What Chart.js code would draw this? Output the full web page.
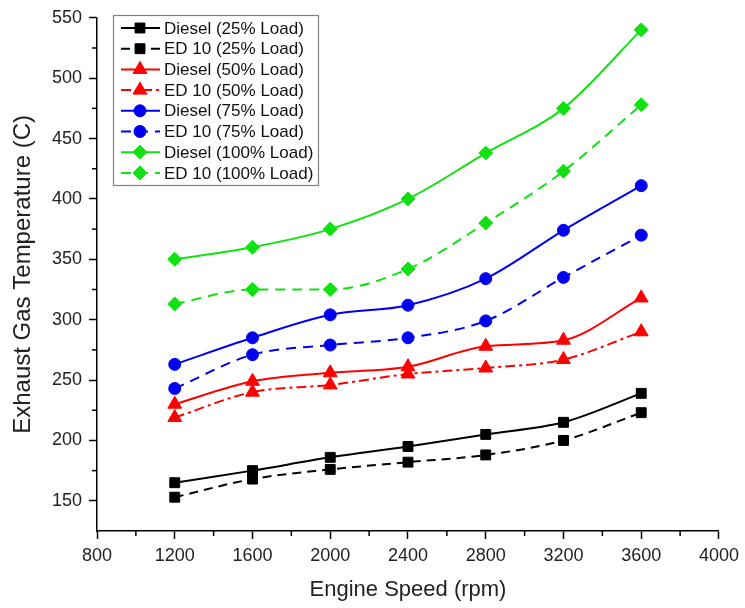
<!DOCTYPE html>
<html><head><meta charset="utf-8">
<script src="https://cdn.jsdelivr.net/npm/chart.js@4.4.1/dist/chart.umd.min.js"></script>
<style>html,body{margin:0;padding:0;background:#fff;}#wrap{width:745px;height:608px;}</style>
</head><body><div id="wrap"><canvas id="c" width="745" height="608"></canvas></div>
<script>
const engineSpeed = [1200, 1600, 2000, 2400, 2800, 3200, 3600];
const diesel25  = [165, 175, 186, 195, 205, 215, 239];
const ed10_25   = [153, 168, 176, 182, 188, 200, 223];
const diesel50  = [230, 249, 256, 261, 278, 283, 318];
const ed10_50   = [219, 240, 246, 255, 260, 267, 290];
const diesel75  = [263, 285, 304, 312, 334, 374, 411];
const ed10_75   = [243, 271, 279, 285, 299, 335, 370];
const diesel100 = [350, 360, 375, 400, 438, 475, 540];
const ed10_100  = [313, 325, 325, 342, 380, 423, 478];
const seriesLabels = ['Diesel (25% Load)', 'ED 10 (25% Load)', 'Diesel (50% Load)', 'ED 10 (50% Load)',
                      'Diesel (75% Load)', 'ED 10 (75% Load)', 'Diesel (100% Load)', 'ED 10 (100% Load)'];
const xTickValues = [800, 1200, 1600, 2000, 2400, 2800, 3200, 3600, 4000];
const yTickValues = [150, 200, 250, 300, 350, 400, 450, 500, 550];
const xMinorValues = [1000, 1400, 1800, 2200, 2600, 3000, 3400, 3800];
const yMinorValues = [175, 225, 275, 325, 375, 425, 475, 525];
const xTitle = 'Engine Speed (rpm)';
const yTitle = 'Exhaust Gas Temperature (C)';

const FONT = "'Liberation Sans', Arial, sans-serif";
const BLACK = '#000000', RED = '#ff0000', BLUE = '#0000f0', GREEN = '#11e011';

const seriesValues = [diesel25, ed10_25, diesel50, ed10_50, diesel75, ed10_75, diesel100, ed10_100];
const styles = [
  {c: BLACK, p: 'rect', r: 7, d: []},
  {c: BLACK, p: 'rect', r: 7, d: [9, 6]},
  {c: RED, p: 'triangle', r: 8, d: []},
  {c: RED, p: 'triangle', r: 8, d: [10, 4, 3, 4]},
  {c: BLUE, p: 'circle', r: 6, d: []},
  {c: BLUE, p: 'circle', r: 6, d: [10, 7]},
  {c: GREEN, p: 'rectRot', r: 7, d: []},
  {c: GREEN, p: 'rectRot', r: 7, d: [10, 7]}
];

const datasets = seriesValues.map((vals, i) => ({
  label: seriesLabels[i],
  data: engineSpeed.map((x, j) => ({x: x, y: vals[j]})),
  borderColor: styles[i].c,
  backgroundColor: styles[i].c,
  pointBackgroundColor: styles[i].c,
  pointBorderColor: styles[i].c,
  pointStyle: styles[i].p,
  pointRadius: styles[i].r,
  pointBorderWidth: 1,
  borderWidth: 2,
  borderDash: styles[i].d,
  cubicInterpolationMode: 'monotone',
  fill: false
}));

function drawMarker(ctx, style, x, y) {
  ctx.save();
  ctx.fillStyle = style.c; ctx.strokeStyle = style.c; ctx.lineWidth = 1; ctx.setLineDash([]);
  if (Chart.helpers && Chart.helpers.drawPoint) {
    Chart.helpers.drawPoint(ctx, {pointStyle: style.p, radius: style.r, rotation: 0, borderWidth: 1}, x, y);
  } else {
    const r = style.r; ctx.beginPath();
    if (style.p === 'rect') { const s = r * Math.SQRT1_2; ctx.rect(x - s, y - s, 2 * s, 2 * s); }
    else if (style.p === 'circle') { ctx.arc(x, y, r, 0, Math.PI * 2); }
    else if (style.p === 'triangle') { ctx.moveTo(x, y - r); ctx.lineTo(x + r * 0.866, y + r * 0.5); ctx.lineTo(x - r * 0.866, y + r * 0.5); ctx.closePath(); }
    else { ctx.moveTo(x, y - r); ctx.lineTo(x + r, y); ctx.lineTo(x, y + r); ctx.lineTo(x - r, y); ctx.closePath(); }
    ctx.fill(); ctx.stroke();
  }
  ctx.restore();
}

const minorTicks = {
  id: 'minorTicks',
  afterDraw(chart) {
    const ctx = chart.ctx, xs = chart.scales.x, ys = chart.scales.y;
    ctx.save(); ctx.strokeStyle = '#000'; ctx.lineWidth = 1.5; ctx.setLineDash([]);
    const bottom = chart.chartArea.bottom, left = chart.chartArea.left;
    xMinorValues.forEach(v => { const px = xs.getPixelForValue(v); ctx.beginPath(); ctx.moveTo(px, bottom); ctx.lineTo(px, bottom + 5); ctx.stroke(); });
    yMinorValues.forEach(v => { const py = ys.getPixelForValue(v); ctx.beginPath(); ctx.moveTo(left, py); ctx.lineTo(left - 5, py); ctx.stroke(); });
    ctx.restore();
  }
};

const boxLegend = {
  id: 'boxLegend',
  afterDraw(chart) {
    const ctx = chart.ctx;
    const bx = 113, by = 15, bw = 205, bh = 170;
    ctx.save();
    ctx.fillStyle = '#fff'; ctx.fillRect(bx, by, bw, bh);
    ctx.strokeStyle = '#808080'; ctx.lineWidth = 1.2; ctx.setLineDash([]);
    ctx.strokeRect(bx + 0.5, by + 0.5, bw, bh);
    ctx.font = '17px ' + FONT; ctx.textBaseline = 'middle'; ctx.textAlign = 'left'; ctx.fillStyle = '#111';
    seriesLabels.forEach((lab, i) => {
      const y = 28 + i * 20.7, st = styles[i];
      ctx.save();
      ctx.strokeStyle = st.c; ctx.lineWidth = 2; ctx.setLineDash(st.d);
      ctx.beginPath(); ctx.moveTo(121, y); ctx.lineTo(160, y); ctx.stroke();
      ctx.restore();
      drawMarker(ctx, st, 140, y);
      ctx.fillStyle = '#111';
      ctx.fillText(lab, 164, y + 1);
    });
    ctx.restore();
  }
};

new Chart(document.getElementById('c'), {
  type: 'line',
  data: {datasets: datasets},
  options: {
    responsive: false,
    devicePixelRatio: 1,
    animation: false,
    layout: {padding: {left: 0, top: 15, right: 20, bottom: 0}},
    plugins: {legend: {display: false}, tooltip: {enabled: false}},
    scales: {
      x: {
        type: 'linear', min: 800, max: 4000,
        afterBuildTicks: s => { s.ticks = xTickValues.map(v => ({value: v})); },
        afterFit: s => { s.height = 77; },
        grid: {drawOnChartArea: false, drawTicks: true, tickLength: 8, tickColor: '#000', tickWidth: 1.5},
        border: {display: true, color: '#000', width: 1.5},
        ticks: {color: '#222', font: {family: FONT, size: 18}, padding: 6, maxRotation: 0, autoSkip: false, callback: v => String(v)},
        title: {display: true, text: xTitle, color: '#222', font: {family: FONT, size: 22}, padding: {top: 0, bottom: 5}}
      },
      y: {
        type: 'linear', min: 125, max: 550,
        afterBuildTicks: s => { s.ticks = yTickValues.map(v => ({value: v})); },
        afterFit: s => { s.width = 97; },
        grid: {drawOnChartArea: false, drawTicks: true, tickLength: 8, tickColor: '#000', tickWidth: 1.5},
        border: {display: true, color: '#000', width: 1.5},
        ticks: {color: '#222', font: {family: FONT, size: 18}, padding: 7, autoSkip: false, callback: v => String(v)},
        title: {display: true, text: yTitle, color: '#222', font: {family: FONT, size: 24}, padding: {top: 9, bottom: 0}}
      }
    }
  },
  plugins: [minorTicks, boxLegend]
});
</script></body></html>
